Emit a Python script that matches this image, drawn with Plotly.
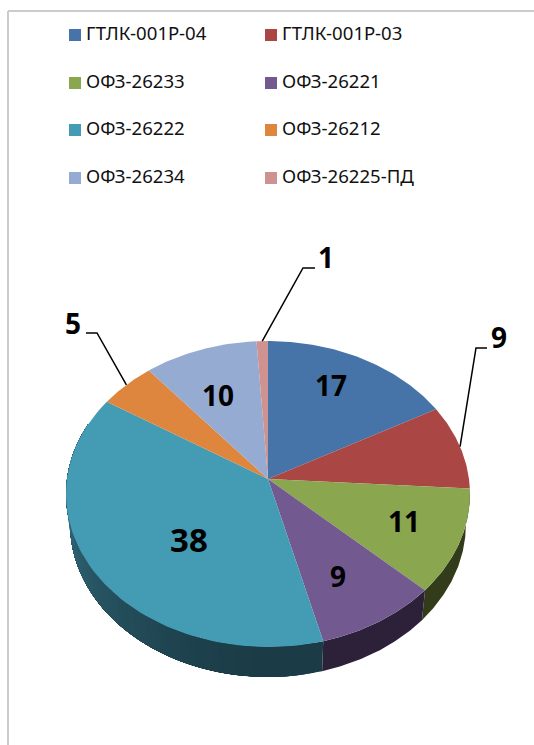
import numpy as np
import plotly.graph_objects as go

# ---- data ----
categories = ["ГТЛК-001Р-04", "ГТЛК-001Р-03", "ОФЗ-26233", "ОФЗ-26221",
              "ОФЗ-26222", "ОФЗ-26212", "ОФЗ-26234", "ОФЗ-26225-ПД"]
values = [17, 9, 11, 9, 38, 5, 10, 1]
colors = ["#4673a8", "#aa4644", "#8aa64f", "#725a91",
          "#439cb3", "#de853e", "#96abd2", "#ce9291"]
side_colors = {2: ("#333c1a", "#333c1a"), 3: ("#2c2138", "#2c2138"),
               4: ("#1b3c47", "#3f8195")}

# ---- pie geometry (perspective view of a tilted disc) ----
CX, CY, A, B, K = 268.0, 479.0, 151.5, 201.0, 0.098
DEPTH, SX = 30.0, 0.98
total = sum(values)
edges = np.cumsum([0] + values) / total * 2 * np.pi


def top(t):
    X, Y = np.sin(t), np.cos(t)
    d = 1 + K * Y
    return CX + B * X / d, CY - A * Y / d


def bottom(t):
    x, y = top(t)
    return CX + (x - CX) * SX, y + DEPTH


def mix(c1, c2, f):
    a = [int(c1[i:i + 2], 16) for i in (1, 3, 5)]
    b = [int(c2[i:i + 2], 16) for i in (1, 3, 5)]
    return "#%02x%02x%02x" % tuple(round(p + (q - p) * f) for p, q in zip(a, b))


fig = go.Figure()


def poly(x, y, color):
    fig.add_trace(go.Scatter(x=list(x), y=list(y), mode="lines", fill="toself",
                             fillcolor=color, line=dict(width=0),
                             hoverinfo="skip", showlegend=False))


# side wall: each strip runs to the far end of its wedge and the next one paints
# over it, so no seams show between the shades of the teal wedge
for i, (near, far) in side_colors.items():
    t0, t1 = edges[i], min(edges[i + 1], np.radians(292))
    n = 60 if i == 4 else 1
    steps = np.linspace(t0, t1, n + 1)
    for j in range(n):
        s = np.linspace(steps[j], t1, 80)
        xt, yt = top(s)
        xb, yb = bottom(s[::-1])
        f = max(0.0, (j / n - 0.12) / 0.88) ** 1.4
        poly(np.r_[xt, xb], np.r_[yt, yb], mix(near, far, f))

# top face
for i, c in enumerate(colors):
    s = np.linspace(edges[i], edges[i + 1], 80)
    xt, yt = top(s)
    poly(np.r_[CX, xt, CX], np.r_[CY, yt, CY], c)

# leader lines: start on the rim at the middle of the slice
leaders = {1: ((476, 348), (487, 348)), 5: ((97, 333), (86, 333)), 7: ((303, 268), (315, 268))}
for i, (elbow, end) in leaders.items():
    sx, sy = top((edges[i] + edges[i + 1]) / 2)
    fig.add_trace(go.Scatter(x=[sx, elbow[0], end[0]], y=[sy, elbow[1], end[1]], mode="lines",
                             line=dict(color="#000000", width=1.5),
                             hoverinfo="skip", showlegend=False))

# value labels
label_pos = [(331, 389), (499, 341), (404, 525), (338, 580), (189, 544), (73, 327), (218, 399), (326, 261)]
for i, (v, (lx, ly)) in enumerate(zip(values, label_pos)):
    fig.add_trace(go.Scatter(x=[lx], y=[ly], mode="text", text=[str(v)], textposition="middle center",
                             textfont=dict(family="Noto Sans", size=33 if v == 38 else 28, color="#000000", weight="bold"),
                             hoverinfo="skip", showlegend=False))

# legend
leg_x = [75, 271]
leg_y = [35, 83, 130, 178]
for i, name in enumerate(categories):
    lx, ly = leg_x[i % 2], leg_y[i // 2]
    fig.add_trace(go.Scatter(x=[lx], y=[ly], mode="markers",
                             marker=dict(symbol="square", size=12, color=colors[i], line=dict(width=0)),
                             hoverinfo="skip", showlegend=False))
    fig.add_trace(go.Scatter(x=[lx + 11], y=[ly + 0.5], mode="text", text=[name], textposition="middle right",
                             textfont=dict(family="Noto Sans", size=18.6, color="#111111"),
                             hoverinfo="skip", showlegend=False))

fig.update_layout(
    width=534, height=745, margin=dict(l=0, r=0, t=0, b=0),
    paper_bgcolor="#ffffff", plot_bgcolor="#ffffff",
    xaxis=dict(range=[0, 534], visible=False, fixedrange=True),
    yaxis=dict(range=[745, 0], visible=False, fixedrange=True),
    shapes=[
        dict(type="line", x0=8, x1=8, y0=11, y1=745, line=dict(color="#cccccc", width=2)),
        dict(type="line", x0=8, x1=534, y0=11, y1=11, line=dict(color="#cccccc", width=2)),
    ],
)
fig.write_html("out.html", config={"displayModeBar": False},
               post_script="document.body.style.margin='0';document.documentElement.style.overflow='hidden';")
